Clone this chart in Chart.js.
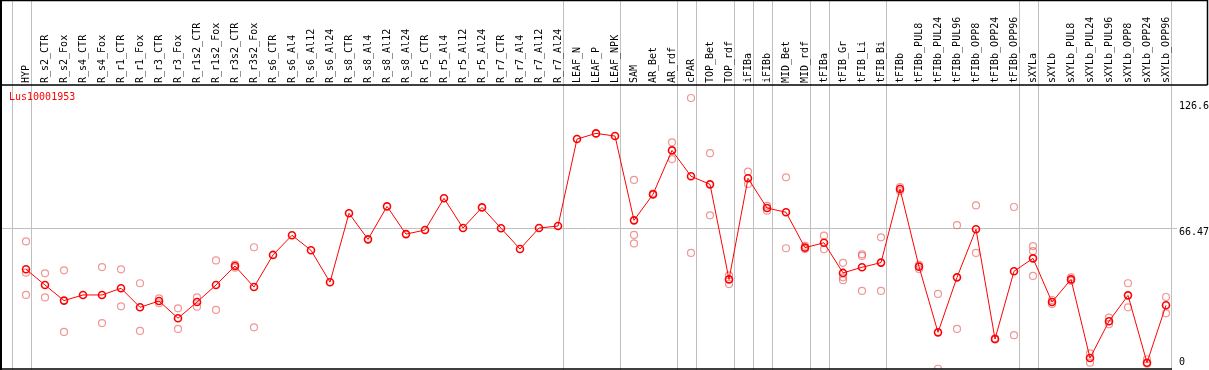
<!DOCTYPE html>
<html>
<head>
<meta charset="utf-8">
<script src="https://cdn.jsdelivr.net/npm/chart.js@4.4.1/dist/chart.umd.min.js"></script>
<style>
  html, body { margin: 0; padding: 0; background: #fff; }
  canvas { display: block; }
</style>
</head>
<body>
<canvas id="myChart" width="1209" height="370"></canvas>
<script>
// sample names along the top
const categories = ['HYP', 'R_s2_CTR', 'R_s2_Fox', 'R_s4_CTR', 'R_s4_Fox', 'R_r1_CTR', 'R_r1_Fox', 'R_r3_CTR', 'R_r3_Fox',
  'R_r1s2_CTR', 'R_r1s2_Fox', 'R_r3s2_CTR', 'R_r3s2_Fox', 'R_s6_CTR', 'R_s6_Al4', 'R_s6_Al12', 'R_s6_Al24',
  'R_s8_CTR', 'R_s8_Al4', 'R_s8_Al12', 'R_s8_Al24', 'R_r5_CTR', 'R_r5_Al4', 'R_r5_Al12', 'R_r5_Al24',
  'R_r7_CTR', 'R_r7_Al4', 'R_r7_Al12', 'R_r7_Al24', 'LEAF_N', 'LEAF_P', 'LEAF_NPK', 'SAM', 'AR_Bet', 'AR_rdf',
  'cPAR', 'TOP_Bet', 'TOP_rdf', 'iFIBa', 'iFIBb', 'MID_Bet', 'MID_rdf', 'tFIBa', 'tFIB_Gr', 'tFIB_Li', 'tFIB_Bi',
  'tFIBb', 'tFIBb_PUL8', 'tFIBb_PUL24', 'tFIBb_PUL96', 'tFIBb_OPP8', 'tFIBb_OPP24', 'tFIBb_OPP96',
  'sXYLa', 'sXYLb', 'sXYLb_PUL8', 'sXYLb_PUL24', 'sXYLb_PUL96', 'sXYLb_OPP8', 'sXYLb_OPP24', 'sXYLb_OPP96']

// mean expression per sample
const meanValues = [46.2, 38.4, 30.7, 33.5, 33.5, 36.8, 27.4, 30.5, 22.0, 30.0, 38.4, 47.8, 37.4,
  53.3, 63.0, 55.6, 39.8, 73.9, 61.0, 77.3, 63.6, 65.6, 81.3, 66.6, 76.8, 66.5, 56.2, 66.6, 67.6,
  110.6, 113.4, 112.1, 70.4, 83.3, 105.0, 92.2, 88.2, 41.2, 91.2, 76.5, 74.4, 56.9, 59.3, 44.4, 47.2, 49.5,
  85.9, 47.5, 15.0, 42.2, 66.0, 11.7, 45.2, 51.6, 30.0, 41.2, 2.3, 20.5, 33.3, 0.0, 28.4]

// single replicates (null = none shown)
const rep1 = [60.0, 44.2, 45.7, null, 47.3, 46.2, 39.3, 31.8, 26.9, 32.3, 50.6, 48.5, 57.1,
  null, null, null, null, null, null, null, null, null, null, null, null, null, null, null, null,
  null, null, null, 90.4, 83.6, 109.0, 130.9, 103.6, 43.2, 94.5, 77.6, 91.7, 57.8, 62.8, 49.4, 53.6, 62.0,
  86.8, 48.4, 34.0, 68.0, 77.8, 12.0, 77.0, 57.7, 31.0, 42.2, 4.6, 22.3, 39.3, 1.7, 32.5]
const rep2 = [44.5, 32.3, 15.2, null, 19.6, 27.9, 15.7, 29.4, 16.7, 27.7, 26.1, 47.0, 17.5,
  null, null, null, null, null, null, null, null, null, null, null, null, null, null, null, null,
  null, null, null, 63.2, 83.0, 100.7, 54.3, 72.9, 38.9, 88.4, 75.2, 56.6, 56.2, 56.1, 40.8, 52.8, 35.5,
  84.9, 46.3, -3.0, 16.7, 54.3, 11.5, 13.6, 55.2, 29.0, 40.5, 0.0, 19.0, 27.4, -0.5, 24.4]
const rep3 = [33.5, null, null, null, null, null, null, null, null, null, null, null, null,
  null, null, null, null, null, null, null, null, null, null, null, null, null, null, null, null,
  null, null, null, 59.0, null, null, null, null, null, null, null, null, null, null, 42.2, 35.5, null,
  null, null, null, null, null, null, null, 42.9, null, null, null, null, null, null, null]

const yTicks = [0, 66.47, 126.6]
// last sample index of each group (-1 = left edge)
const groupEnds = [-1, 0, 28, 31, 34, 35, 37, 38, 39, 41, 42, 45, 52, 53, 60]
const title = 'Lus10001953'

const meanPoints = meanValues.map((v, i) => ({x: i, y: v}))
let repPoints = []
;[rep1, rep2, rep3].forEach(arr => {
  arr.forEach((v, i) => {
    if (v !== null) repPoints.push({x: i, y: v})
  })
})

const mono = '"DejaVu Sans Mono", monospace'

const decor = {
  id: 'decor',
  beforeDatasetsDraw(chart) {
    const ctx = chart.ctx
    const xs = chart.scales.x
    const ys = chart.scales.y
    const area = chart.chartArea
    ctx.save()
    ctx.strokeStyle = '#c0c0c0'
    ctx.lineWidth = 1
    // horizontal grid line at middle tick
    let gy = Math.round(ys.getPixelForValue(yTicks[1])) + 0.5
    ctx.beginPath()
    ctx.moveTo(0, gy)
    ctx.lineTo(area.right + 5, gy)
    ctx.stroke()
    // group separators
    groupEnds.forEach(g => {
      let px = Math.round(xs.getPixelForValue(g + 0.24)) + 0.5
      ctx.beginPath()
      ctx.moveTo(px, 0)
      ctx.lineTo(px, chart.height)
      ctx.stroke()
    })
    ctx.restore()
  },
  afterDraw(chart) {
    const ctx = chart.ctx
    const xs = chart.scales.x
    const ys = chart.scales.y
    const area = chart.chartArea
    ctx.save()
    // rotated sample labels
    ctx.fillStyle = '#000'
    ctx.font = '10px ' + mono
    ctx.textAlign = 'left'
    ctx.textBaseline = 'middle'
    categories.forEach((c, i) => {
      ctx.save()
      ctx.translate(Math.round(xs.getPixelForValue(i)) + 0.5, area.top - 2)
      ctx.rotate(-Math.PI / 2)
      ctx.fillText(c, 0, 0)
      ctx.restore()
    })
    // right side value labels
    ctx.font = '10px ' + mono
    ctx.textBaseline = 'middle'
    yTicks.forEach((t, k) => {
      let py = ys.getPixelForValue(t)
      if (k === 1) py += 4
      ctx.fillText(String(t), area.right + 7, py)
    })
    // title
    ctx.fillStyle = '#ff0000'
    ctx.font = '10px ' + mono
    ctx.fillText(title, 9, area.top + 12)
    // frame
    ctx.strokeStyle = '#000'
    ctx.lineWidth = 2
    ctx.beginPath()
    ctx.moveTo(1, 0); ctx.lineTo(1, chart.height)
    ctx.stroke()
    ctx.lineWidth = 1.5
    ctx.beginPath()
    ctx.moveTo(0, 0.5); ctx.lineTo(chart.width - 1.5, 0.5); ctx.lineTo(chart.width - 1.5, area.top)
    ctx.moveTo(0, area.top); ctx.lineTo(chart.width - 1.5, area.top)
    ctx.moveTo(0, chart.height - 1); ctx.lineTo(area.right, chart.height - 1)
    ctx.stroke()
    ctx.restore()
  }
}

const canvas = document.getElementById('myChart')
new Chart(canvas, {
  type: 'line',
  data: {
    datasets: [{
      label: 'mean',
      data: meanPoints,
      order: 0,
      borderColor: '#ff0000',
      borderWidth: 1,
      pointRadius: 3.5,
      pointBorderWidth: 1.6,
      pointBorderColor: '#ff0000',
      pointBackgroundColor: 'rgba(255,255,255,0)',
      tension: 0
    }, {
      label: 'replicates',
      data: repPoints,
      order: 1,
      showLine: false,
      pointRadius: 3.5,
      pointBorderWidth: 1.2,
      pointBorderColor: 'rgba(230,80,80,0.6)',
      pointBackgroundColor: 'rgba(255,255,255,0)'
    }]
  },
  options: {
    responsive: false,
    animation: false,
    devicePixelRatio: 1,
    layout: {autoPadding: false, padding: {top: 85, bottom: 1, left: 0, right: 37}},
    plugins: {legend: {display: false}, tooltip: {enabled: false}},
    scales: {
      x: {type: 'linear', display: false, min: -26 / 19, max: -26 / 19 + 1172 / 19},
      y: {type: 'linear', display: false, min: -3.12, max: 137.34}
    }
  },
  plugins: [decor]
})
</script>
</body>
</html>
